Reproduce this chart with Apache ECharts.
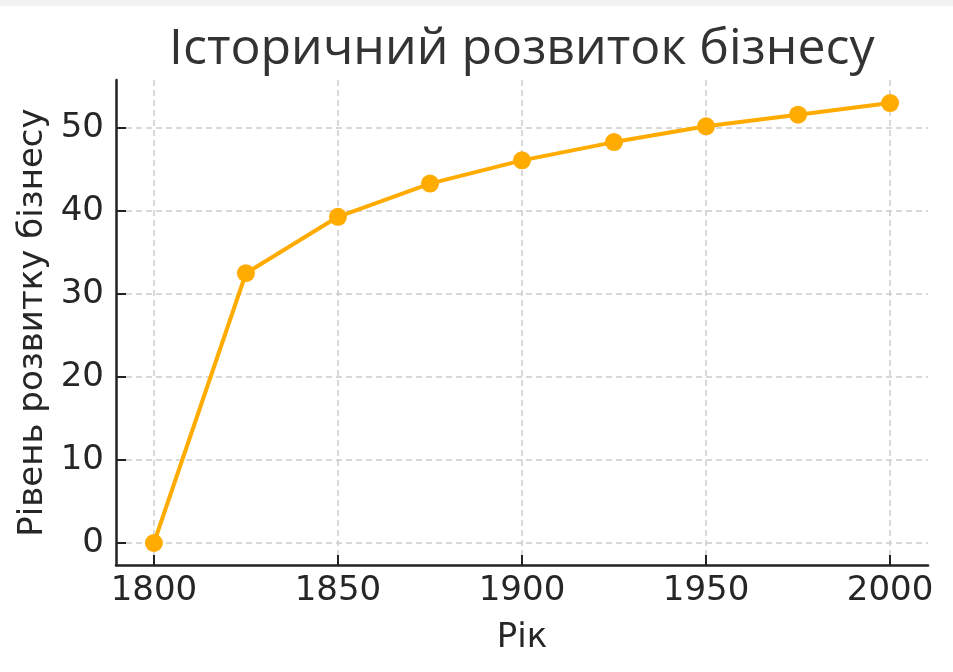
<!DOCTYPE html>
<html>
<head>
<meta charset="utf-8">
<script src="https://cdn.jsdelivr.net/npm/echarts@6/dist/echarts.min.js"></script>
<style>
  html, body { margin: 0; padding: 0; background: #fff; }
  .topbar { height: 6px; background: #f2f2f2; }
  #chart { width: 953px; height: 666px; }
</style>
</head>
<body>
<div class="topbar"></div>
<div id="chart"></div>
<script>
// дані
const years = [1800, 1825, 1850, 1875, 1900, 1925, 1950, 1975, 2000]
const levels = [0, 32.5, 39.3, 43.3, 46.1, 48.3, 50.2, 51.6, 53.0]
const xTicks = [1800, 1850, 1900, 1950, 2000]
const yTicks = [0, 10, 20, 30, 40, 50]

const chart = echarts.init(document.getElementById('chart'))

const axisFont = { fontFamily: 'DejaVu Sans', fontSize: 34, color: '#262626' }

chart.setOption({
  animation: false,
  title: {
    text: 'Історичний розвиток бізнесу',
    left: 164,
    top: 14,
    textStyle: { fontFamily: 'Open Sans', fontWeight: 'normal', fontSize: 50, color: '#333' },
  },
  grid: { left: 116, right: 25, top: 74, bottom: 107, containLabel: false },
  xAxis: {
    type: 'value',
    min: 1789.7,
    max: 2010.3,
    name: 'Рік',
    nameLocation: 'middle',
    nameGap: 56,
    nameTextStyle: axisFont,
    axisLine: { onZero: false, lineStyle: { color: '#222', width: 2.5 } },
    axisTick: { inside: true, length: 10, lineStyle: { color: '#222', width: 2 }, customValues: xTicks },
    axisLabel: { ...axisFont, margin: 9, customValues: xTicks, formatter: v => String(v) },
    splitLine: { show: true, lineStyle: { color: '#cccccc', type: [6, 4], width: 1.5 } },
  },
  yAxis: {
    type: 'value',
    min: -2.65,
    max: 55.78,
    name: 'Рівень розвитку бізнесу',
    nameLocation: 'middle',
    nameGap: 66,
    nameTextStyle: axisFont,
    axisLine: { show: true, onZero: false, lineStyle: { color: '#222', width: 2.5 } },
    axisTick: { show: true, inside: true, length: 10, lineStyle: { color: '#222', width: 2 }, customValues: yTicks },
    axisLabel: { ...axisFont, margin: 12, customValues: yTicks, formatter: v => String(v) },
    splitLine: { show: true, lineStyle: { color: '#cccccc', type: [6, 4], width: 1.5 } },
  },
  series: [
    {
      type: 'line',
      data: years.map((y, i) => [y, levels[i]]),
      symbol: 'circle',
      symbolSize: 18,
      lineStyle: { color: '#ffab00', width: 4 },
      itemStyle: { color: '#ffab00' },
    },
  ],
})
</script>
</body>
</html>
